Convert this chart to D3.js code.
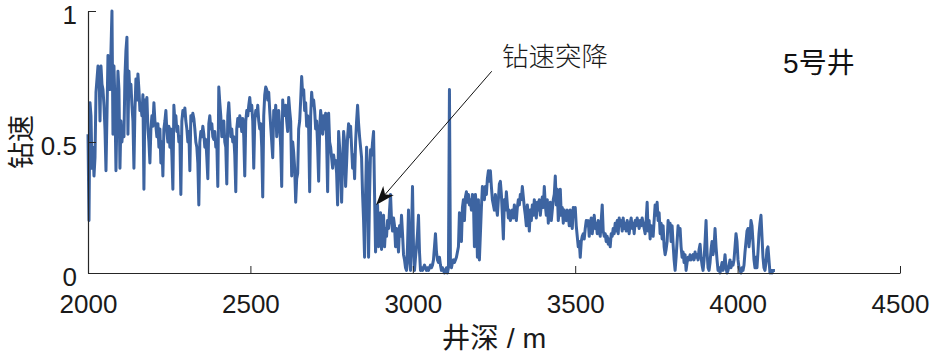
<!DOCTYPE html>
<html><head><meta charset="utf-8">
<script src="https://cdn.jsdelivr.net/npm/d3@7"></script>
<style>html,body{margin:0;padding:0;background:#fff;} svg{display:block}</style>
</head><body>
<svg id="chart" width="932" height="356"></svg>
<script>
// ---- data ----
const xTicks = [2000, 2500, 3000, 3500, 4000, 4500];
const yTicks = [0, 0.5, 1];
const yTickLabels = ["0", "0.5", "1"];
const xLabel = "井深 / m";
const yLabel = "钻速";
const wellName = "5号井";
const depthStart = 2000;
const depthEnd = 4115;
const rop = [
  0.53,0.20,0.65,0.60,0.40,0.48,0.37,0.44,0.69,0.74,
  0.79,0.78,0.58,0.79,0.72,0.70,0.64,0.55,0.39,0.60,
  0.83,0.80,0.70,0.85,1.00,0.53,0.79,0.65,0.39,0.60,
  0.77,0.70,0.40,0.58,0.50,0.56,0.52,0.75,0.85,0.90,
  0.53,0.77,0.68,0.72,0.64,0.58,0.40,0.62,0.74,0.66,
  0.76,0.70,0.62,0.64,0.60,0.68,0.32,0.66,0.62,0.67,
  0.55,0.50,0.42,0.55,0.60,0.56,0.65,0.58,0.56,0.52,
  0.57,0.48,0.55,0.42,0.50,0.37,0.55,0.58,0.62,0.54,
  0.50,0.56,0.48,0.55,0.45,0.32,0.64,0.58,0.60,0.54,
  0.56,0.50,0.52,0.30,0.58,0.62,0.60,0.63,0.58,
  0.55,0.50,0.54,0.39,0.60,0.58,0.61,0.59,0.55,0.50,
  0.48,0.42,0.26,0.50,0.54,0.52,0.56,0.53,0.48,0.51,
  0.44,0.36,0.57,0.60,0.55,0.57,0.52,0.51,0.54,0.48,
  0.50,0.33,0.71,0.65,0.60,0.52,0.55,0.58,0.50,0.48,
  0.34,0.60,0.65,0.58,0.52,0.55,0.50,0.52,0.45,0.31,
  0.55,0.59,0.56,0.60,0.58,0.54,0.59,0.52,0.37,0.58,
  0.62,0.60,0.64,0.67,0.62,0.64,0.58,0.40,0.58,0.62,
  0.60,0.64,0.58,0.55,0.57,0.48,0.29,0.60,0.68,0.71,
  0.70,0.66,0.69,0.62,0.56,0.50,0.44,0.62,0.58,0.64,
  0.52,0.58,0.62,0.56,0.48,0.33,0.66,0.60,0.62,0.64,
  0.58,0.54,0.67,0.62,0.58,0.37,0.50,0.46,0.40,0.27,
  0.36,0.38,0.55,0.58,0.66,0.75,0.68,0.70,0.62,0.65,
  0.56,0.60,0.55,0.31,0.60,0.69,0.64,0.66,0.62,0.55,
  0.58,0.48,0.35,0.55,0.62,0.58,0.53,0.60,0.55,0.61,
  0.50,0.31,0.61,0.50,0.48,0.44,0.40,0.45,0.42,0.43,
  0.38,0.26,0.54,0.48,0.40,0.27,0.42,0.54,0.50,0.33,
  0.42,0.52,0.57,0.52,0.56,0.48,0.40,0.45,0.36,0.50,
  0.58,0.64,0.57,0.52,0.48,0.44,0.30,0.20,0.06,0.30,
  0.48,0.40,0.06,0.30,0.47,0.45,0.50,0.54,0.30,0.08,
  0.18,0.26,0.10,0.20,0.23,0.09,0.18,0.22,0.10,0.17,
  0.14,0.20,0.17,0.24,0.30,0.20,0.16,0.21,0.18,0.10,
  0.17,0.13,0.08,0.18,0.14,0.22,0.15,0.07,0.05,0.02,
  0.01,0.10,0.24,0.05,0.01,0.15,0.33,0.10,0.01,0.06,
  0.10,0.15,0.22,0.08,0.01,0.02,0.01,0.02,0.03,0.02,
  0.01,0.02,0.01,0.02,0.03,0.02,0.03,0.05,0.10,0.15,
  0.08,0.05,0.04,0.06,0.03,0.01,0.02,0.01,0.00,0.01,
  0.02,0.00,0.02,0.70,0.03,0.02,0.04,0.05,0.04,0.05,
  0.06,0.08,0.10,0.23,0.15,0.12,0.25,0.28,0.20,0.29,
  0.31,0.27,0.30,0.26,0.28,
  0.24,0.30,0.28,0.10,0.30,0.25,0.06,0.28,0.05,0.15,
  0.25,0.33,0.31,0.28,0.33,0.30,0.36,0.39,0.35,0.39,
  0.33,0.28,0.26,0.24,0.30,0.25,0.22,0.28,0.34,0.35,
  0.30,0.22,0.13,0.28,0.24,0.31,0.26,0.21,0.24,0.20,
  0.22,0.24,0.21,0.26,0.23,0.20,0.25,0.28,0.26,0.30,
  0.28,0.33,0.29,0.25,0.22,0.18,0.26,0.22,0.16,0.24,
  0.20,0.26,0.22,0.28,0.24,0.21,0.27,0.24,0.28,0.22,
  0.26,0.29,0.25,0.33,0.26,0.22,0.28,0.19,0.25,0.27,
  0.20,0.24,0.28,0.30,0.37,0.26,0.32,0.20,0.24,0.32,
  0.22,0.25,0.19,0.24,0.21,
  0.20,0.24,0.22,0.18,0.24,0.20,0.17,0.25,0.22,0.25,
  0.18,0.14,0.10,0.12,0.06,0.12,0.14,0.15,0.13,0.17,
  0.20,0.18,0.20,0.14,0.19,0.21,0.15,0.18,0.22,0.17,
  0.19,0.15,0.20,0.16,0.14,0.20,0.26,0.16,0.14,0.15,
  0.12,0.14,0.11,0.13,0.10,0.15,0.14,0.17,0.15,0.19,
  0.16,0.20,0.15,0.21,0.18,0.20,0.16,0.21,0.17,0.19,
  0.16,0.20,0.18,0.15,0.19,0.21,0.17,0.19,0.15,0.20,
  0.18,0.21,0.19,0.17,0.20,0.18,0.21,0.19,0.17,0.15,
  0.20,0.27,0.16,0.20,0.13,0.18,0.16,0.14,0.20,0.26,
  0.22,0.27,0.20,0.23,0.15,0.19,0.13,0.18,0.10,0.07,
  0.09,0.12,0.20,0.16,0.19,0.12,0.18,0.11,0.05,0.01,
  0.06,0.12,0.18,0.15,0.17,0.10,0.06,0.08,0.04,0.07,
  0.01,0.04,0.06,0.05,0.07,0.05,0.06,0.07,0.05,0.08,
  0.06,0.07,0.05,0.09,0.11,0.06,0.03,0.01,0.05,0.12,
  0.20,0.08,0.02,0.01,0.04,0.09,0.12,0.07,0.10,0.17,
  0.10,0.05,0.01,0.02,0.00,0.02,0.04,0.01,0.03,0.07,
  0.02,0.00,0.01,0.03,0.05,0.02,0.04,0.03,0.05,0.10,
  0.15,0.12,0.05,0.02,0.01,0.00,0.02,0.01,0.03,0.08,
  0.12,0.16,0.17,0.10,0.14,0.20,0.18,0.12,0.05,0.02,
  0.06,0.02,0.08,0.15,0.19,0.22,0.14,0.06,0.02,0.01,
  0.04,0.09,0.10,0.05,0.00,0.01,0.00,0.01,0.01,0.01
];
const annotText = "钻速突降";
const arrowTip = [2887, 0.26];   // depth, rate
const arrowTail = [3243, 0.77];
const annotAnchor = [3275, 0.79];
const wellAnchor = [4140, 0.765];

// ---- layout ----
const svg = d3.select("#chart");
const mLeft = 88, mRight = 900, mTop = 11, mBottom = 273;
const x = d3.scaleLinear().domain([2000, 4500]).range([mLeft, mRight]);
const y = d3.scaleLinear().domain([0, 1]).range([mBottom, mTop]);
const axisColor = "#262626";
const tickFont = "'Liberation Sans', Arial, 'Noto Sans CJK SC', sans-serif";

const step = (depthEnd - depthStart) / (rop.length - 1);
const series = rop.map((v, i) => ({d: depthStart + i * step, v}));

// data line
svg.append("path")
  .datum(series)
  .attr("fill", "none")
  .attr("stroke", "#3d64a1")
  .attr("stroke-width", 3)
  .attr("stroke-linejoin", "round")
  .attr("d", d3.line().x(p => x(p.d)).y(p => y(p.v)));

// axes (inward ticks, no box)
const xAxis = d3.axisBottom(x).tickValues(xTicks).tickSizeInner(-7).tickSizeOuter(0).tickFormat(d3.format("d"));
const gx = svg.append("g").attr("transform", `translate(0,${mBottom})`).call(xAxis);
gx.select(".domain").attr("stroke", axisColor).attr("stroke-width", 1.2);
gx.selectAll(".tick line").attr("stroke", axisColor).attr("stroke-width", 1);
gx.selectAll(".tick text").attr("fill", "#1a1a1a").attr("font-family", tickFont)
  .attr("font-size", 26).attr("dy", null).attr("y", 40);

const yAxis = d3.axisLeft(y).tickValues(yTicks).tickSizeInner(-8).tickSizeOuter(0)
  .tickFormat((d, i) => yTickLabels[i]);
const gy = svg.append("g").attr("transform", `translate(${mLeft},0)`).call(yAxis);
gy.select(".domain").attr("stroke", axisColor).attr("stroke-width", 1.2);
gy.selectAll(".tick line").attr("stroke", axisColor).attr("stroke-width", 1);
gy.selectAll(".tick text").attr("fill", "#1a1a1a").attr("font-family", tickFont)
  .attr("font-size", 26).attr("x", -11).attr("dy", null).attr("y", 12);

// axis labels
svg.append("text").attr("x", (mLeft + mRight) / 2).attr("y", 348)
  .attr("text-anchor", "middle").attr("font-family", tickFont)
  .attr("font-size", 28.5).attr("fill", "#1a1a1a").text(xLabel);
svg.append("text").attr("transform", `translate(31,${(mTop + mBottom) / 2}) rotate(-90)`)
  .attr("text-anchor", "middle").attr("font-family", "'Noto Sans CJK SC', sans-serif")
  .attr("font-size", 27).attr("fill", "#1a1a1a").text(yLabel);

// annotation arrow
const tx = x(arrowTip[0]), ty = y(arrowTip[1]);
const sx = x(arrowTail[0]), sy = y(arrowTail[1]);
const len = Math.hypot(tx - sx, ty - sy);
const ux = (tx - sx) / len, uy = (ty - sy) / len;
const nx = -uy, ny = ux;
const L = 19, W = 7;
svg.append("line").attr("x1", sx).attr("y1", sy).attr("x2", tx - ux * 12).attr("y2", ty - uy * 12)
  .attr("stroke", "#111").attr("stroke-width", 1);
svg.append("path")
  .attr("d", `M${tx},${ty} L${tx - ux * L + nx * W},${ty - uy * L + ny * W} L${tx - ux * L * 0.72},${ty - uy * L * 0.72} L${tx - ux * L - nx * W},${ty - uy * L - ny * W} Z`)
  .attr("fill", "#111");

svg.append("text").attr("x", x(annotAnchor[0])).attr("y", y(annotAnchor[1]))
  .attr("font-family", "'Noto Sans CJK SC', sans-serif").attr("font-size", 26.5)
  .attr("font-weight", 300).attr("fill", "#1a1a1a").text(annotText);

svg.append("text").attr("x", x(wellAnchor[0])).attr("y", y(wellAnchor[1]))
  .attr("font-family", tickFont).attr("font-size", 28)
  .attr("fill", "#111").text(wellName);
</script>
</body></html>
